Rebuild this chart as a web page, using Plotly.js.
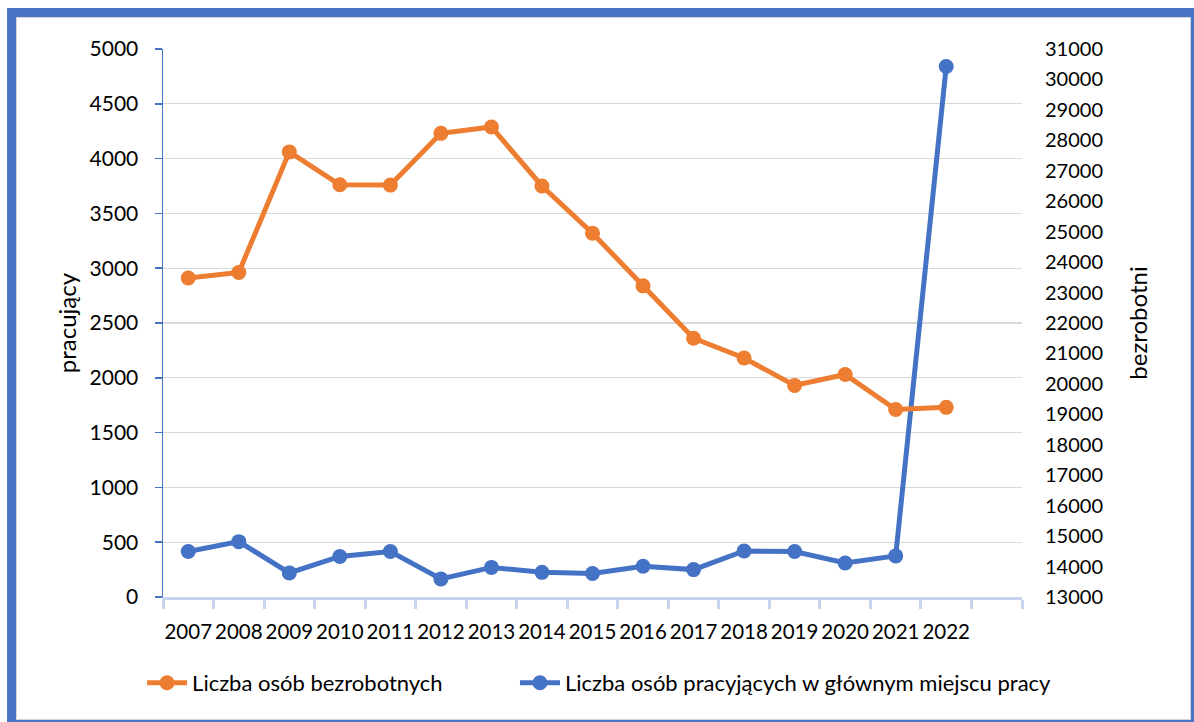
<!DOCTYPE html>
<html>
<head>
<meta charset="utf-8">
<script src="https://cdn.plot.ly/plotly-3.0.1.min.js"></script>
<style>
  html, body { margin: 0; padding: 0; background: #ffffff; }
  #frame {
    position: absolute; left: 7px; top: 8px; width: 1187px; height: 714px;
    box-sizing: border-box;
    border-left: 9px solid #4a74c6; border-top: 9px solid #4a74c6;
    border-right: 3px solid #4a74c6; border-bottom: 2px solid #4a74c6;
    box-shadow: inset 1px 1px 0 #d4d4d4, inset -1px -1px 0 #d4d4d4;
  }
  #chart { position: absolute; left: 0; top: 0; width: 1194px; height: 722px; }
</style>
</head>
<body>
<div id="frame"></div>
<div id="chart"></div>
<script>
// Data
const years = [2007, 2008, 2009, 2010, 2011, 2012, 2013, 2014, 2015, 2016, 2017, 2018, 2019, 2020, 2021, 2022];
const yearLabels = ["2007","2008","2009","2010","2011","2012","2013","2014","2015","2016","2017","2018","2019","2020","2021","2022"];
const bezrobotni = [23480, 23660, 27620, 26540, 26530, 28230, 28440, 26500, 24950, 23220, 21500, 20850, 19950, 20310, 19160, 19230];
const pracujacy = [415, 505, 220, 370, 415, 165, 270, 225, 215, 280, 250, 420, 415, 310, 375, 4840];
const nameBezrobotni = "Liczba osób bezrobotnych";
const namePracujacy = "Liczba osób pracyjących w głównym miejscu pracy";

const FONT = "Lato, 'Open Sans', sans-serif";

const traces = [
  {
    x: years, y: pracujacy, name: namePracujacy, yaxis: 'y',
    mode: 'lines+markers', type: 'scatter', legend: 'legend2',
    line: { color: '#4472C4', width: 5 },
    marker: { color: '#4472C4', size: 15 }
  },
  {
    x: years, y: bezrobotni, name: nameBezrobotni, yaxis: 'y2',
    mode: 'lines+markers', type: 'scatter', legend: 'legend',
    line: { color: '#ED7D31', width: 5 },
    marker: { color: '#ED7D31', size: 15 }
  }
];

const legendCommon = {
  orientation: 'h', xref: 'container', yref: 'container',
  xanchor: 'left', y: 0.054, yanchor: 'middle',
  font: { family: FONT, size: 22, color: '#000000' },
  itemwidth: 40, bgcolor: 'rgba(0,0,0,0)'
};

const layout = {
  width: 1194, height: 722,
  margin: { l: 163, r: 172, t: 49, b: 125 },
  paper_bgcolor: 'rgba(0,0,0,0)',
  plot_bgcolor: 'rgba(0,0,0,0)',
  font: { family: FONT, size: 20, color: '#000000' },
  showlegend: true,
  legend: Object.assign({}, legendCommon, { x: 0.119 }),
  legend2: Object.assign({}, legendCommon, { x: 0.4313 }),
  xaxis: {
    type: 'linear', range: [2006.5, 2023.5],
    tickmode: 'array', tickvals: years, ticktext: yearLabels,
    ticks: '', showgrid: false, zeroline: false, tickangle: 0,
    showline: true, linecolor: '#c6d4ee', linewidth: 3,
    ticklabelstandoff: 14,
    tickfont: { family: FONT, size: 20.5, color: '#000000' },
    minor: { tickmode: 'linear', tick0: 2006.5, dtick: 1, ticks: 'outside', ticklen: 9, tickwidth: 3, tickcolor: '#c6d4ee', showgrid: false }
  },
  yaxis: {
    range: [0, 5000], tickmode: 'linear', tick0: 0, dtick: 500,
    showgrid: true, gridcolor: '#d9d9d9', gridwidth: 1.3, zeroline: false,
    showline: true, linecolor: '#4472C4', linewidth: 1.5,
    ticks: 'outside', ticklen: 7, tickcolor: '#4472C4', tickwidth: 1.5,
    ticklabelstandoff: 12, tickformat: 'd',
    tickfont: { family: FONT, size: 21, color: '#000000' },
    title: { text: 'pracujący', font: { family: FONT, size: 24, color: '#000000' }, standoff: 6 }
  },
  yaxis2: {
    overlaying: 'y', side: 'right',
    range: [13000, 31000], tickmode: 'linear', tick0: 13000, dtick: 1000,
    showgrid: false, zeroline: false, showline: false,
    ticks: '', ticklabelstandoff: 22, tickformat: 'd',
    tickfont: { family: FONT, size: 20, color: '#000000' },
    title: { text: 'bezrobotni', font: { family: FONT, size: 24, color: '#000000' }, standoff: 28 }
  }
};

Plotly.newPlot('chart', traces, layout, { displayModeBar: false, staticPlot: true });
</script>
</body>
</html>
